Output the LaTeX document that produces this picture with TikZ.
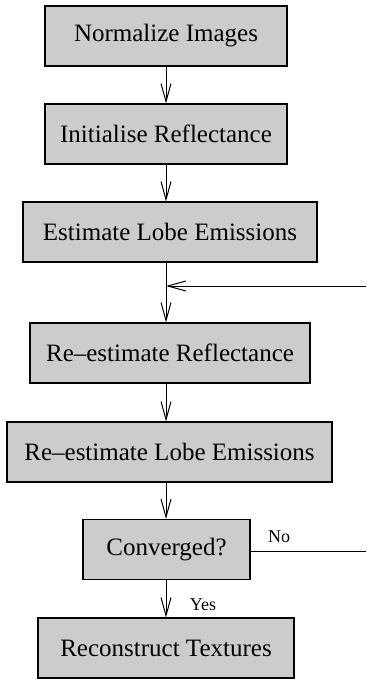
\documentclass[tikz,border=0pt]{standalone}
\usepackage{fontspec}
\setmainfont{Liberation Serif}
\usetikzlibrary{arrows.meta}

\begin{document}
\begin{tikzpicture}[x=0.5pt, y=-0.5pt,
        stage/.style={draw, rectangle, fill=black!20, line width=0.6pt, minimum height=30pt, font=\fontsize{12.5}{15}\selectfont},
        flow/.style={-{Straight Barb[length=9pt, width=5pt]}, line width=0.5pt},
        lbl/.style={font=\fontsize{9}{11}\selectfont}]
    \useasboundingbox (0,0) rectangle (366,679);
    % processing stages
    \node[stage, minimum width=121pt] (norm) at (166,36) {Normalize Images};
    \node[stage, minimum width=121pt] (init) at (166,134) {Initialise Reflectance};
    \node[stage, minimum width=147pt] (est) at (170,232) {Estimate Lobe Emissions};
    \node[stage, minimum width=140pt] (rerefl) at (170,353) {Re--estimate Reflectance};
    \node[stage, minimum width=162.5pt] (relobe) at (169.5,452) {Re--estimate Lobe Emissions};
    \node[stage, minimum width=83.5pt] (conv) at (166.5,549.5) {Converged?};
    \node[stage, minimum width=128pt] (recon) at (166,648) {Reconstruct Textures};
    % loop ends at the right border
    \coordinate (loopin) at (366,286);
    \coordinate (loopout) at (366,551);
    % connectors
    \draw[flow] (norm) -- (init);
    \draw[flow] (init.south) -- (est.north -| init);
    \draw[flow] (est.south -| norm) -- (rerefl.north -| norm);
    \draw[flow] (loopin) -- (loopin -| norm);
    \draw[flow] (rerefl.south -| norm) -- (relobe.north -| norm);
    \draw[flow] (relobe.south -| norm) -- (conv.north -| norm);
    \draw[flow] (conv.south -| norm) -- (recon.north -| norm);
    \draw[line width=0.5pt] (conv.east |- loopout) -- (loopout);
    % branch labels
    \node[lbl] (nolbl) at (279,537) {No};
    \node[lbl] (yeslbl) at (203,605) {Yes};
\end{tikzpicture}
\end{document}
